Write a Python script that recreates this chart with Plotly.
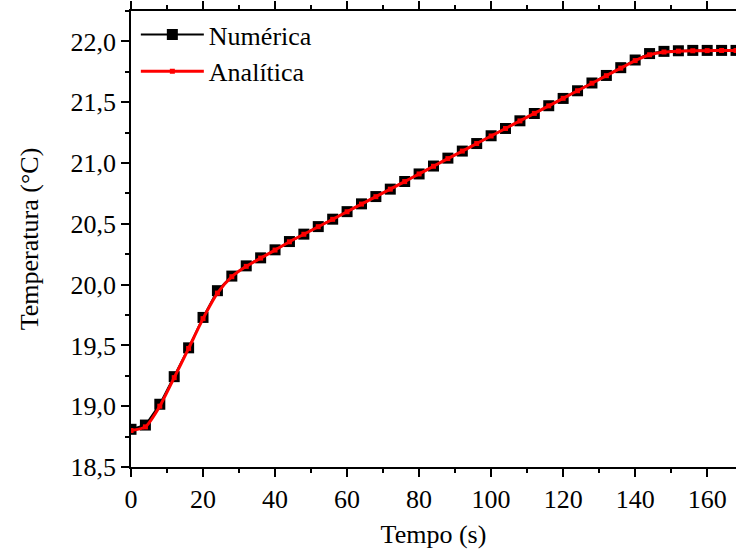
import plotly.graph_objects as go

tempo = [0, 4, 8, 12, 16, 20, 24, 28, 32, 36, 40, 44, 48, 52, 56, 60, 64, 68, 72, 76, 80, 84,
         88, 92, 96, 100, 104, 108, 112, 116, 120, 124, 128, 132, 136, 140, 144, 148, 152,
         156, 160, 164, 168]
numerica = [18.81, 18.845, 19.016, 19.243, 19.48, 19.73, 19.95, 20.07, 20.154, 20.22, 20.286,
            20.354, 20.415, 20.477, 20.538, 20.60, 20.664, 20.724, 20.785, 20.848, 20.91,
            20.975, 21.04, 21.098, 21.16, 21.224, 21.284, 21.347, 21.407, 21.471, 21.531,
            21.594, 21.658, 21.72, 21.784, 21.847, 21.90, 21.918, 21.923, 21.926, 21.926,
            21.926, 21.926]
analitica = [18.80, 18.83, 19.00, 19.235, 19.475, 19.72, 19.93, 20.065, 20.15, 20.218, 20.284,
             20.352, 20.414, 20.476, 20.537, 20.599, 20.662, 20.723, 20.785, 20.847, 20.91,
             20.973, 21.036, 21.098, 21.16, 21.222, 21.284, 21.346, 21.408, 21.47, 21.532,
             21.594, 21.656, 21.718, 21.78, 21.842, 21.89, 21.913, 21.92, 21.923, 21.924,
             21.925, 21.925]

FONT = "Liberation Serif"
FS = 26

fig = go.Figure()
fig.add_trace(go.Scatter(
    x=tempo, y=numerica, name="Numérica", mode="lines+markers",
    line=dict(color="black", width=2),
    marker=dict(symbol="square", size=11, color="black"),
))
fig.add_trace(go.Scatter(
    x=tempo, y=analitica, name="Analítica", mode="lines+markers",
    line=dict(color="red", width=3, shape="spline", smoothing=0.6),
    marker=dict(symbol="square", size=5, color="red"),
))

axis_common = dict(
    showline=True, linecolor="black", linewidth=1.5, ticks="outside", ticklen=8,
    tickwidth=1.5, tickcolor="black", showgrid=False, zeroline=False,
    mirror="allticks", automargin=False,
    tickfont=dict(family=FONT, size=FS, color="black"),
)

fig.update_layout(
    width=736, height=552,
    margin=dict(l=131, r=0, t=11, b=85),
    paper_bgcolor="white", plot_bgcolor="white",
    separators=", ",
    font=dict(family=FONT, size=FS, color="black"),
    showlegend=True,
    legend=dict(x=0.008, y=1.0, xanchor="left", yanchor="top",
                bgcolor="rgba(0,0,0,0)", font=dict(family=FONT, size=FS),
                itemwidth=63, tracegroupgap=0),
    xaxis=dict(
        range=[0, 168], dtick=20, tick0=0,
        minor=dict(dtick=10, ticklen=4, ticks="outside", tickcolor="black", tickwidth=1.5),
        title=dict(text="Tempo (s)", font=dict(family=FONT, size=FS), standoff=12),
        **axis_common,
    ),
    yaxis=dict(
        range=[18.5, 22.25], dtick=0.5, tick0=18.5, tickformat=".1f",
        minor=dict(dtick=0.25, ticklen=4, ticks="outside", tickcolor="black", tickwidth=1.5),
        title=dict(text="Temperatura (°C)", font=dict(family=FONT, size=FS), standoff=24),
        **axis_common,
    ),
)

fig.write_html(
    "out.html",
    config={"displayModeBar": False},
    post_script="document.body.style.margin='0';document.body.style.overflow='hidden';",
)
